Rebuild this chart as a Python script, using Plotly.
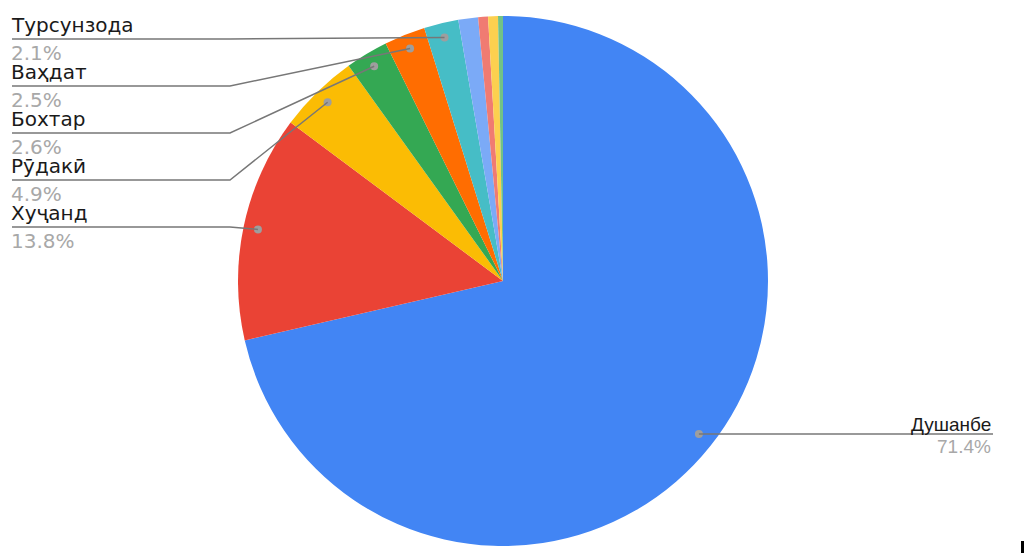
import math
import plotly.graph_objects as go

# Data
cities = ["Душанбе", "Хуҷанд", "Рӯдакӣ", "Бохтар", "Ваҳдат", "Турсунзода",
          "Other 1", "Other 2", "Other 3", "Other 4"]
shares = [71.4, 13.8, 4.9, 2.6, 2.5, 2.1, 1.2, 0.6, 0.6, 0.3]
colors = ["#4285F4", "#EA4335", "#FBBC04", "#34A853", "#FF6D01", "#46BDC6",
          "#7BAAF7", "#F07B72", "#FCD04F", "#71C287"]
labelled = ["Душанбе", "Хуҷанд", "Рӯдакӣ", "Бохтар", "Ваҳдат", "Турсунзода"]

W, H = 1024, 553
CX, CY, R = 503, 281, 265

def px(x):
    return x / W

def py(y):
    return 1 - y / H

fig = go.Figure(go.Pie(
    labels=cities, values=shares, sort=False, direction="clockwise", rotation=0,
    marker=dict(colors=colors, line=dict(width=0)),
    textinfo="none", hoverinfo="none",
    domain=dict(x=[px(CX - R), px(CX + R)], y=[py(CY + R), py(CY - R)]),
))

shapes = []
annotations = []
total = sum(shares)
cum = 0.0
mids = {}
for c, v in zip(cities, shares):
    mids[c] = (cum + v / 2) / total * 2 * math.pi
    cum += v

left_rows = {"Турсунзода": 39, "Ваҳдат": 86, "Бохтар": 133, "Рӯдакӣ": 180, "Хуҷанд": 227}
line_col = "#777777"
dot_col = "#9e9e9e"
pct_col = "#a8a8a8"
txt_col = "#1a1a1a"
LF = "DejaVu Sans"
RF = "Liberation Sans"
for c in labelled:
    v = shares[cities.index(c)]
    a = mids[c]
    dx = CX + 0.945 * R * math.sin(a)
    dy = CY - 0.945 * R * math.cos(a)
    if c not in left_rows:
        dy -= 3
    shapes.append(dict(type="circle", xref="paper", yref="paper",
                       x0=px(dx - 4), x1=px(dx + 4), y0=py(dy + 4), y1=py(dy - 4),
                       fillcolor=dot_col, line=dict(width=0), layer="above"))
    if c in left_rows:
        ly = left_rows[c]
        path = f"M {px(12)},{py(ly)} L {px(230)},{py(ly)} L {px(dx)},{py(dy)}"
        shapes.append(dict(type="path", xref="paper", yref="paper", path=path,
                           line=dict(color=line_col, width=1.5), layer="above"))
        annotations.append(dict(x=px(10), y=py(ly - 14), xref="paper", yref="paper",
                                text=c, showarrow=False, xanchor="left", yanchor="middle",
                                borderpad=0,
                                font=dict(size=20, color=txt_col, family=LF)))
        annotations.append(dict(x=px(10), y=py(ly + 14), xref="paper", yref="paper",
                                text=f"{v}%", showarrow=False, xanchor="left", yanchor="middle",
                                borderpad=0,
                                font=dict(size=20, color=pct_col, family=LF)))
    else:
        ly = dy
        shapes.append(dict(type="line", xref="paper", yref="paper",
                           x0=px(dx), x1=px(993), y0=py(ly), y1=py(ly),
                           line=dict(color=line_col, width=1.5), layer="above"))
        annotations.append(dict(x=px(992), y=py(ly - 9), xref="paper", yref="paper",
                                text=c, showarrow=False, xanchor="right", yanchor="middle",
                                borderpad=0,
                                font=dict(size=19, color=txt_col, family=RF)))
        annotations.append(dict(x=px(992), y=py(ly + 13), xref="paper", yref="paper",
                                text=f"{v}%", showarrow=False, xanchor="right", yanchor="middle",
                                borderpad=0,
                                font=dict(size=19, color=pct_col, family=RF)))

# small corner mark
shapes.append(dict(type="rect", xref="paper", yref="paper",
                   x0=px(1021), x1=px(1024), y0=py(553), y1=py(541),
                   fillcolor="#000000", line=dict(width=0)))

fig.update_layout(width=W, height=H, autosize=False,
                  margin=dict(l=0, r=0, t=0, b=0),
                  showlegend=False, paper_bgcolor="white",
                  shapes=shapes, annotations=annotations)
fig.write_html("out.html", config={"displayModeBar": False},
               post_script="document.body.style.margin='0';")
